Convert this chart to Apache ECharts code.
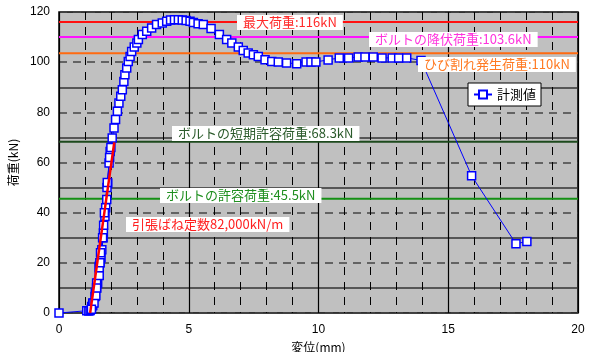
<!DOCTYPE html>
<html><head><meta charset="utf-8">
<script src="https://cdn.jsdelivr.net/npm/echarts@6/dist/echarts.min.js"></script>
<style>html,body{margin:0;padding:0;background:#fff}#c{width:594px;height:352px}</style>
</head><body><div id="c"></div>
<script>
// Measured data (displacement mm, load kN)
const measuredX = [0,1.07,1.26,1.39,1.49,1.55,1.62,1.45,1.30,1.15,1.30,1.45,1.58,1.65,1.71,1.77,1.84,1.70,1.55,1.35,1.20,1.40,1.55,1.68,1.80,1.88,1.93,1.97,1.85,1.72,1.58,1.42,1.25,1.45,1.60,1.75,1.86,1.95,2.00,2.05,2.12,2.18,2.25,2.31,2.38,2.44,2.50,2.54,2.61,2.67,2.74,2.80,2.90,3.00,3.06,3.21,3.38,3.57,3.76,3.98,4.15,4.30,4.45,4.60,4.75,4.90,5.05,5.18,5.36,5.56,5.86,6.18,6.46,6.66,6.91,7.10,7.29,7.49,7.68,7.94,8.20,8.45,8.77,9.16,9.52,9.71,9.90,10.37,10.80,11.16,11.53,11.79,12.11,12.45,12.84,13.09,13.40,13.95,15.90,17.61,18.03];
const measuredY = [0,0.9,2.6,6.6,12,18.6,22,10,3,0.8,4,12,20,25.2,31.9,38.5,45.2,30,15,4,1,8,18,30,42,51.8,59.8,64.4,50,35,20,7,1.5,10,24,40,52,62,66,69.8,73.8,77.1,80.4,83.7,86.4,89,92.3,95,97.7,100.3,102.3,104.3,106,107.6,109,111,112.3,113.6,115,115.6,116.3,116.8,116.9,116.9,116.8,116.6,116.3,115.8,115.3,115,113.4,111,109,107.6,106,104.7,103.7,103,102.3,101,100.3,100.1,99.7,99.4,100.1,100.1,100.1,100.9,101.7,101.7,102.1,102.1,102.1,101.7,101.7,101.7,101.7,100.7,54.7,27.6,28.5];
// Spring constant line (82,000 kN/m)
const springX = [1.2, 2.13];
const springY = [0, 68];
// Reference load lines
const refValues = [116, 110, 103.6, 68.3, 45.5];
const refColors = ['#ff1010', '#ff10ff', '#ff6a10', '#1d4a1d', '#159015'];
const refLabels = ['最大荷重:116kN', 'ボルトの降伏荷重:103.6kN', 'ひび割れ発生荷重:110kN', 'ボルトの短期許容荷重:68.3kN', 'ボルトの許容荷重:45.5kN', '引張ばね定数82,000kN/m'];
const labelColors = ['#ff2a2a', '#ff33dd', '#ff7a22', '#2a5a2a', '#1f8f1f', '#ff2020'];
const labelPos = [[237,15],[369,32],[418,57],[172,126],[160,188],[126,217]];
const xTicks = [0, 5, 10, 15, 20];
const yTicks = [0, 20, 40, 60, 80, 100, 120];

const chart = echarts.init(document.getElementById('c'), null, {renderer: 'canvas'});
const measured = measuredX.map((x, i) => [x, measuredY[i]]);
const spring = springX.map((x, i) => [x, springY[i]]);
const refSeries = refValues.map((v, i) => ({
  type: 'line', silent: true, symbol: 'none', z: 1,
  data: [[xTicks[0], v], [xTicks[xTicks.length - 1], v]],
  lineStyle: {color: refColors[i], width: 2}
}));

const font = '"Liberation Sans", Arial, sans-serif';
const jfont = '13px "Noto Sans CJK JP", sans-serif';
chart.setOption({
  animation: false,
  grid: {left: 59, right: 16, top: 12, bottom: 39, show: true, backgroundColor: '#c0c0c0', borderColor: '#000', borderWidth: 1.5, containLabel: false, outerBoundsMode: 'none'},
  legend: {
    data: ['計測値'], left: 468, top: 83, width: 72, height: 24,
    backgroundColor: '#fff', borderColor: '#000', borderWidth: 1, padding: [5, 5],
    itemWidth: 18, itemHeight: 10, itemGap: 4,
    textStyle: {fontFamily: '"Noto Sans CJK JP", sans-serif', fontSize: 13, color: '#000'}
  },
  xAxis: {
    type: 'value', min: 0, max: 20, interval: 5,
    name: '変位(mm)', nameLocation: 'middle', nameGap: 28,
    nameTextStyle: {fontFamily: '"Noto Sans CJK JP", sans-serif', fontSize: 12, color: '#000'},
    axisLine: {show: false}, axisTick: {show: false},
    axisLabel: {color: '#000', fontSize: 12, fontFamily: font, margin: 11},
    splitLine: {show: true, lineStyle: {color: '#000', width: 1.2}},
    minorTick: {show: false, splitNumber: 5},
    minorSplitLine: {show: true, lineStyle: {color: '#000', width: 1, type: [8, 7]}}
  },
  yAxis: {
    type: 'value', min: 0, max: 120, interval: 20,
    name: '荷重(kN)', nameLocation: 'middle', nameGap: 26,
    nameTextStyle: {fontFamily: '"Noto Sans CJK JP", sans-serif', fontSize: 12, color: '#000'},
    axisLine: {show: false}, axisTick: {show: false},
    axisLabel: {color: '#000', fontSize: 12, fontFamily: font, margin: 9},
    splitLine: {show: true, lineStyle: {color: '#444', width: 1.5, type: [8, 6]}},
    minorTick: {show: false, splitNumber: 2},
    minorSplitLine: {show: true, lineStyle: {color: '#333', width: 1.5}}
  },
  series: refSeries.concat([
    {
      name: '計測値', type: 'line', data: measured, z: 3,
      symbol: 'rect', symbolSize: 8, showAllSymbol: true,
      lineStyle: {color: '#0000ff', width: 1},
      itemStyle: {color: '#fff', borderColor: '#0000ff', borderWidth: 1.5}
    },
    {
      name: 'spring', type: 'line', data: spring, z: 4, symbol: 'none', silent: true,
      lineStyle: {color: '#ff0000', width: 2.5}
    }
  ]),
  graphic: refLabels.map((t, i) => ({
    type: 'text', x: labelPos[i][0], y: labelPos[i][1], z: 100,
    style: {text: t, fill: labelColors[i], font: jfont, backgroundColor: '#fff', padding: [1, 6, 1, 6]}
  }))
});
</script></body></html>
